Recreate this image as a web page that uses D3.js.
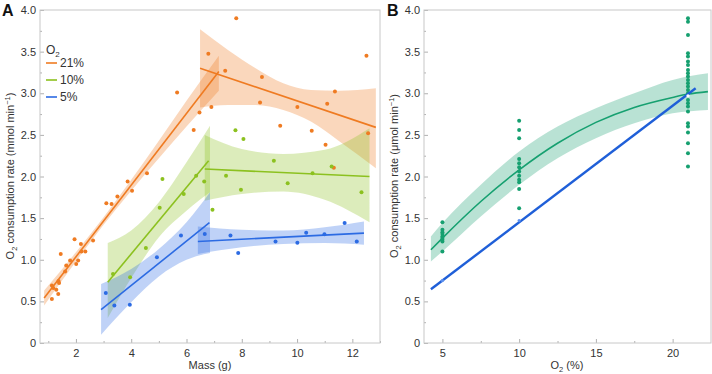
<!DOCTYPE html>
<html><head><meta charset="utf-8">
<script src="https://cdn.jsdelivr.net/npm/d3@7"></script>
<style>body{margin:0;background:#fff} svg{display:block} text{font-family:"Liberation Sans",Arial,sans-serif}</style>
</head><body><svg id="c" width="712" height="374"></svg>
<script>
// ---------- data ----------
const yTickValues = [0,0.5,1,1.5,2,2.5,3,3.5,4];
const massTicks = [2,4,6,8,10,12];
const o2Ticks = [5,10,15,20];
const legendLabels = ["21%","10%","5%"];

// Panel A points [mass, rate]
const pts21 = [[1.13,0.53],[1.13,0.69],[1.18,0.66],[1.29,0.64],[1.36,0.59],[1.37,0.745],[1.39,0.72],[1.45,1.07],[1.61,0.86],[1.65,0.93],[1.79,0.99],[1.95,1.245],[2.01,0.95],[2.08,0.99],[2.18,1.19],[2.2,1.10],[2.34,1.10],[2.62,1.23],[3.10,1.68],[3.29,1.67],[3.50,1.76],[3.87,1.94],[4.03,1.83],[4.57,2.04],[5.66,3.01],[6.26,2.56],[6.47,2.77],[6.79,3.475],[6.90,2.835],[7.40,3.27],[7.80,3.90],[8.66,2.89],[8.73,3.195],[9.39,2.61],[10.01,2.835],[10.53,2.55],[11.03,2.38],[11.09,2.875],[11.37,3.02],[11.33,2.105],[12.51,3.45],[12.57,2.52]];
const pts10 = [[3.34,0.83],[3.96,0.79],[4.53,1.14],[5.03,1.625],[5.13,1.97],[5.90,1.79],[6.35,2.01],[6.64,1.94],[6.94,1.60],[7.43,2.01],[7.77,2.555],[7.97,1.84],[8.06,2.45],[9.16,2.19],[9.66,1.92],[10.56,2.04],[11.25,2.12],[12.33,1.81]];
const pts5 = [[3.08,0.60],[3.39,0.45],[3.95,0.46],[4.93,1.03],[5.80,1.29],[6.66,1.31],[7.59,1.29],[7.87,1.08],[9.22,1.22],[10.01,1.205],[10.33,1.325],[10.99,1.305],[11.72,1.44],[12.16,1.22]];

// Fitted segments [x, y]
const fit21a = [[0.85,0.54],[7.17,3.26]];
const fit21b = [[6.49,3.30],[12.85,2.59]];
const fit10a = [[3.15,0.73],[6.80,2.19]];
const fit10b = [[6.66,2.09],[12.62,2.00]];
const fit5a = [[2.91,0.40],[6.83,1.445]];
const fit5b = [[6.41,1.22],[12.42,1.32]];

// Confidence bands [x, lower, upper]
const band21a = [[0.85,0.45,0.63],[2,0.98,1.09],[3,1.42,1.51],[4,1.83,1.96],[5,2.22,2.43],[6,2.60,2.91],[7.17,3.03,3.45]];
const band21b = [[6.49,2.83,3.77],[7.5,2.86,3.52],[8.5,2.86,3.30],[9.5,2.80,3.12],[10.5,2.66,3.04],[11.5,2.43,3.03],[12.85,2.10,3.06]];
const band10a = [[3.15,0.30,1.20],[4,0.78,1.35],[5,1.27,1.69],[6,1.59,2.17],[6.85,1.81,2.61]];
const band10b = [[6.66,1.71,2.50],[8,1.79,2.33],[9.5,1.82,2.27],[11,1.72,2.32],[12.62,1.45,2.58]];
const band5a = [[2.91,0.10,0.71],[4,0.49,0.89],[5,0.80,1.13],[6,1.00,1.45],[6.85,1.08,1.81]];
const band5b = [[6.41,1.07,1.40],[8,1.15,1.36],[9.5,1.19,1.35],[11,1.20,1.39],[12.42,1.18,1.46]];

// Panel B
const o2Levels = [5,10,21];
const ratesAt5 = [1.45,1.36,1.33,1.31,1.28,1.26,1.24,1.22,1.10];
const ratesAt10 = [2.67,2.56,2.46,2.21,2.16,2.11,2.06,2.01,1.96,1.93,1.85,1.62];
const ratesAt21 = [3.90,3.86,3.70,3.48,3.44,3.38,3.34,3.28,3.24,3.20,3.16,3.12,3.08,3.04,3.00,2.92,2.88,2.84,2.78,2.64,2.60,2.53,2.40,2.28,2.12];
const curveB = [[4.25,1.12],[5,1.26],[7.5,1.70],[10,2.08],[12.5,2.40],[15,2.65],[17.5,2.83],[20,2.95],[21,2.99],[22.3,3.02]];
const bandB = [[4.25,0.98,1.28],[5,1.10,1.44],[7.5,1.52,1.90],[10,1.90,2.30],[12.5,2.22,2.60],[15,2.46,2.82],[17.5,2.64,3.00],[20,2.76,3.16],[22.3,2.80,3.24]];
const blueLineB = [[4.25,0.645],[21.5,3.06]];
const blueMarksB = [[5,0.75],[10,1.47],[21,2.97]];

// ---------- drawing ----------
const C = {o:"#ef7b22", g:"#8cc11f", b:"#2c6be3", t:"#16a070", bb:"#1f5fd8"};
const svg = d3.select("#c");
const xA = d3.scaleLinear().domain([0.7,13]).range([40,380]);
const yA = d3.scaleLinear().domain([0,4]).range([343,10]);
const xB = d3.scaleLinear().domain([3.8,22.5]).range([424,711]);
const yB = yA.copy();

const fmtY = d => d===0 ? "0" : d3.format(".1f")(d);

function axes(x, y, xt, xminor, yminor){
  const g = svg.append("g");
  const [x0,x1] = x.range(), [y1,y0] = y.range();
  // minor ticks
  g.append("g").attr("transform",`translate(0,${y1})`)
    .call(d3.axisBottom(x).tickValues(xminor).tickSize(-2).tickFormat(""))
    .call(s=>{s.select(".domain").remove(); s.selectAll("line").attr("stroke","#b0b0b0");});
  g.append("g").attr("transform",`translate(${x0},0)`)
    .call(d3.axisLeft(y).tickValues(yminor).tickSize(-2).tickFormat(""))
    .call(s=>{s.select(".domain").remove(); s.selectAll("line").attr("stroke","#b0b0b0");});
  // major
  g.append("g").attr("transform",`translate(0,${y1})`)
    .call(d3.axisBottom(x).tickValues(xt).tickSize(-4).tickPadding(6).tickFormat(d3.format("d")))
    .call(s=>{s.select(".domain").remove(); s.selectAll("line").attr("stroke","#b0b0b0");
      s.selectAll("text").attr("fill","#333").attr("font-size",11).attr("font-family","Liberation Sans, Arial");});
  g.append("g").attr("transform",`translate(${x0},0)`)
    .call(d3.axisLeft(y).tickValues(yTickValues).tickSize(-4).tickPadding(4).tickFormat(fmtY))
    .call(s=>{s.select(".domain").remove(); s.selectAll("line").attr("stroke","#b0b0b0");
      s.selectAll("text").attr("fill","#333").attr("font-size",11).attr("font-family","Liberation Sans, Arial");});
  g.append("rect").attr("x",x0).attr("y",y0).attr("width",x1-x0).attr("height",y1-y0)
    .attr("fill","none").attr("stroke","#c8c8c8").attr("stroke-width",1);
}

const yMinor = d3.range(0.25,4,0.5);
axes(xA, yA, massTicks, [1,3,5,7,9,11,13], yMinor);
axes(xB, yB, o2Ticks, [7.5,12.5,17.5], yMinor);

// Panel A bands
const areaA = d3.area().x(d=>xA(d[0])).y0(d=>yA(d[1])).y1(d=>yA(d[2])).curve(d3.curveMonotoneX);
const lineA = d3.line().x(d=>xA(d[0])).y(d=>yA(d[1]));
const gA = svg.append("g");
[[band21a,C.o],[band21b,C.o],[band10a,C.g],[band10b,C.g],[band5a,C.b],[band5b,C.b]].forEach(([b,c])=>{
  gA.append("path").attr("d",areaA(b)).attr("fill",c).attr("fill-opacity",0.3);
});
[[fit21a,C.o],[fit21b,C.o],[fit10a,C.g],[fit10b,C.g],[fit5a,C.b],[fit5b,C.b]].forEach(([f,c])=>{
  gA.append("path").attr("d",lineA(f)).attr("stroke",c).attr("stroke-width",1.6).attr("fill","none");
});
[[pts21,C.o],[pts10,C.g],[pts5,C.b]].forEach(([p,c])=>{
  gA.append("g").selectAll("circle").data(p).join("circle")
    .attr("cx",d=>xA(d[0])).attr("cy",d=>yA(d[1])).attr("r",2).attr("fill",c);
});

// Legend
const leg = svg.append("g").attr("font-size",12).attr("fill","#333");
const lt = leg.append("text").attr("x",46).attr("y",54).attr("fill","#333");
lt.append("tspan").text("O");
lt.append("tspan").attr("font-size",8).attr("dy",3).text("2");
[C.o,C.g,C.b].forEach((c,i)=>{
  const y = 63 + i*17;
  leg.append("line").attr("x1",46).attr("x2",57).attr("y1",y).attr("y2",y).attr("stroke",c).attr("stroke-width",1.6);
  leg.append("text").attr("x",60).attr("y",y+4).attr("fill","#333").text(legendLabels[i]);
});

// Panel B
const gB = svg.append("g");
const areaB = d3.area().x(d=>xB(d[0])).y0(d=>yB(d[1])).y1(d=>yB(d[2])).curve(d3.curveMonotoneX);
const lineB = d3.line().x(d=>xB(d[0])).y(d=>yB(d[1])).curve(d3.curveMonotoneX);
gB.append("path").attr("d",areaB(bandB)).attr("fill",C.t).attr("fill-opacity",0.3);
gB.append("path").attr("d",lineB(curveB)).attr("stroke",C.t).attr("stroke-width",1.6).attr("fill","none");
const ptsB = [];
[ratesAt5,ratesAt10,ratesAt21].forEach((arr,i)=>arr.forEach(v=>ptsB.push([o2Levels[i],v])));
gB.append("g").selectAll("circle").data(ptsB).join("circle")
  .attr("cx",d=>xB(d[0])).attr("cy",d=>yB(d[1])).attr("r",2).attr("fill",C.t);
gB.append("path").attr("d",lineB(blueLineB)).attr("stroke",C.bb).attr("stroke-width",2.4).attr("fill","none");
gB.append("g").selectAll("circle").data(blueMarksB).join("circle")
  .attr("cx",d=>xB(d[0])).attr("cy",d=>yB(d[1])).attr("r",1.6)
  .attr("fill",(d,i)=> i===2 ? "#fff" : "#5b8fee");

// Titles
function ytitle(x, cx, unit){
  const t = svg.append("text").attr("transform",`translate(${x},${cx}) rotate(-90)`)
    .attr("text-anchor","middle").attr("font-size",11).attr("fill","#333");
  t.append("tspan").text("O");
  t.append("tspan").attr("font-size",7.5).attr("dy",3).text("2");
  t.append("tspan").attr("dy",-3).text(` consumption rate (${unit} min`);
  t.append("tspan").attr("font-size",7.5).attr("dy",-4).text("−1");
  t.append("tspan").attr("dy",4).text(")");
}
ytitle(14, 176, "mmol");
ytitle(398, 176, "μmol");
svg.append("text").attr("x",210).attr("y",369).attr("text-anchor","middle").attr("font-size",11).attr("fill","#333").text("Mass (g)");
const xt = svg.append("text").attr("x",567).attr("y",369).attr("text-anchor","middle").attr("font-size",11).attr("fill","#333");
xt.append("tspan").text("O");
xt.append("tspan").attr("font-size",7.5).attr("dy",3).text("2");
xt.append("tspan").attr("dy",-3).text(" (%)");

svg.append("text").attr("x",2).attr("y",16).attr("font-size",16).attr("font-weight","bold").attr("fill","#111").text("A");
svg.append("text").attr("x",387).attr("y",16).attr("font-size",16).attr("font-weight","bold").attr("fill","#111").text("B");
</script></body></html>
